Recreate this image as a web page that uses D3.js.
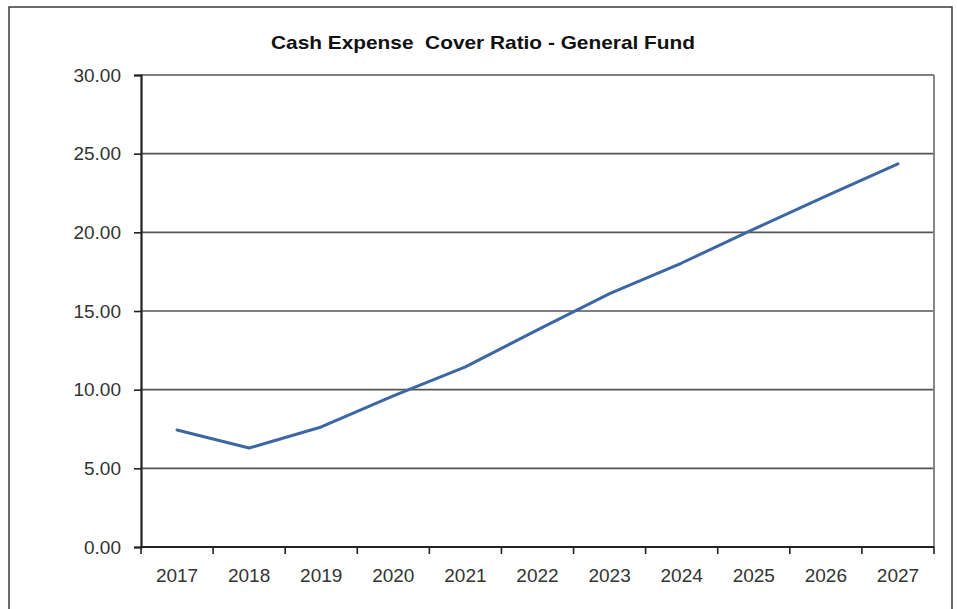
<!DOCTYPE html>
<html>
<head>
<meta charset="utf-8">
<script src="https://cdn.jsdelivr.net/npm/d3@7"></script>
<style>
  html, body { margin: 0; padding: 0; background: #fff; }
  svg { display: block; }
</style>
</head>
<body>
<svg id="chart" width="957" height="609"></svg>
<script>
// Cash expense cover ratio, General Fund, by year
const years = ["2017", "2018", "2019", "2020", "2021", "2022", "2023", "2024", "2025", "2026", "2027"];
const ratio = [7.44, 6.29, 7.63, 9.6, 11.45, 13.8, 16.1, 18.05, 20.2, 22.3, 24.35];
const yTicks = [0, 5, 10, 15, 20, 25, 30];
const title = "Cash Expense  Cover Ratio - General Fund";

const svg = d3.select("#chart");
const plot = { left: 141, right: 934, top: 75, bottom: 547 };

// Outer chart frame
svg.append("rect")
  .attr("x", 9).attr("y", 7)
  .attr("width", 943).attr("height", 620)
  .attr("fill", "#fff")
  .attr("stroke", "#3a3a3a")
  .attr("stroke-width", 1.5);

// Title
svg.append("text")
  .attr("x", 483).attr("y", 49)
  .attr("text-anchor", "middle")
  .attr("font-family", "Liberation Sans, Arial, sans-serif")
  .attr("font-weight", "bold")
  .attr("font-size", 19)
  .attr("textLength", 424)
  .attr("lengthAdjust", "spacingAndGlyphs")
  .attr("fill", "#111")
  .attr("xml:space", "preserve")
  .text(title);

const x = d3.scaleBand().domain(years).range([plot.left, plot.right]);
const y = d3.scaleLinear().domain([0, 30]).range([plot.bottom, plot.top]);

// Horizontal gridlines
svg.append("g")
  .selectAll("line")
  .data(yTicks.filter(d => d > 0))
  .join("line")
  .attr("x1", plot.left).attr("x2", plot.right)
  .attr("y1", d => y(d)).attr("y2", d => y(d))
  .attr("stroke", "#555")
  .attr("stroke-width", 1.6);

// Right edge of the plot area
svg.append("line")
  .attr("x1", plot.right).attr("x2", plot.right)
  .attr("y1", plot.top).attr("y2", plot.bottom)
  .attr("stroke", "#888")
  .attr("stroke-width", 2);

// Y axis
const yAxis = svg.append("g")
  .attr("transform", `translate(${plot.left},0)`)
  .call(d3.axisLeft(y).tickValues(yTicks).tickFormat(d3.format(".2f")).tickSize(7).tickPadding(13));
yAxis.select(".domain").attr("stroke", "#222").attr("stroke-width", 2.2);
yAxis.selectAll(".tick line").attr("stroke", "#222").attr("stroke-width", 1.6);
yAxis.selectAll(".tick text")
  .attr("font-family", "Liberation Sans, Arial, sans-serif")
  .attr("font-size", 19)
  .attr("fill", "#333");

// X axis: ticks sit on category boundaries
const xAxis = svg.append("g")
  .attr("transform", `translate(0,${plot.bottom})`);
xAxis.append("line")
  .attr("x1", plot.left).attr("x2", plot.right)
  .attr("stroke", "#222").attr("stroke-width", 2.2);
const bounds = years.map(d => x(d)).concat([x(years[years.length - 1]) + x.bandwidth()]);
xAxis.selectAll("line.tk")
  .data(bounds)
  .join("line")
  .attr("class", "tk")
  .attr("x1", d => d).attr("x2", d => d)
  .attr("y1", 0).attr("y2", 7)
  .attr("stroke", "#222").attr("stroke-width", 1.6);
xAxis.selectAll("text")
  .data(years)
  .join("text")
  .attr("x", d => x(d) + x.bandwidth() / 2)
  .attr("y", 35)
  .attr("text-anchor", "middle")
  .attr("font-family", "Liberation Sans, Arial, sans-serif")
  .attr("font-size", 19)
  .attr("fill", "#333")
  .text(d => d);

// Ratio line
const line = d3.line()
  .x((d, i) => x(years[i]) + x.bandwidth() / 2)
  .y(d => y(d));
svg.append("path")
  .datum(ratio)
  .attr("d", line)
  .attr("fill", "none")
  .attr("stroke", "#3d67a3")
  .attr("stroke-width", 3)
  .attr("stroke-linejoin", "round")
  .attr("stroke-linecap", "round");
</script>
</body>
</html>
